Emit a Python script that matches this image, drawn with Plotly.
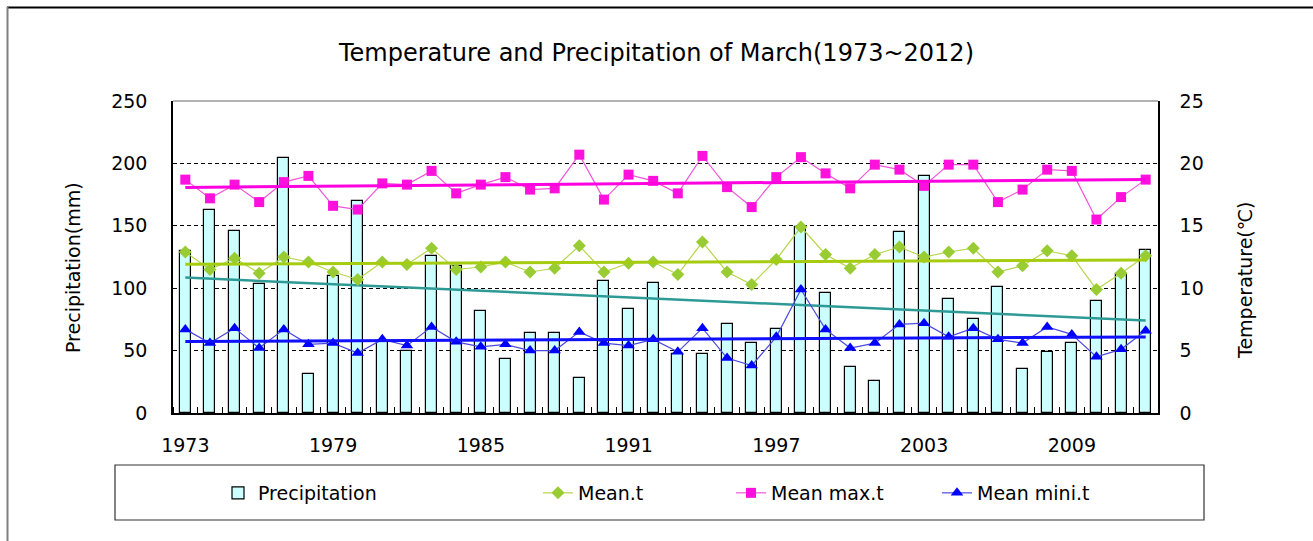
import numpy as np
import plotly.graph_objects as go

years = list(range(1973, 2013))
precipitation = [130, 163, 146, 103, 204, 31, 110, 170, 58, 50,
                 126, 118, 82, 43, 64, 64, 28, 106, 83, 104,
                 47, 47, 71, 56, 67, 149, 96, 37, 26, 145,
                 190, 91, 75, 101, 35, 49, 56, 90, 111, 131]
mean_t = [12.9, 11.5, 12.4, 11.2, 12.5, 12.1, 11.3, 10.7, 12.1, 11.9,
          13.2, 11.5, 11.7, 12.1, 11.3, 11.6, 13.4, 11.3, 12.0, 12.1,
          11.1, 13.7, 11.3, 10.3, 12.3, 14.9, 12.7, 11.6, 12.7, 13.3,
          12.5, 12.9, 13.2, 11.3, 11.8, 13.0, 12.6, 9.9, 11.2, 12.6]
mean_max_t = [18.7, 17.2, 18.3, 16.9, 18.5, 19.0, 16.6, 16.3, 18.4, 18.3,
              19.4, 17.6, 18.3, 18.9, 17.9, 18.0, 20.7, 17.1, 19.1, 18.6,
              17.6, 20.6, 18.1, 16.5, 18.9, 20.5, 19.2, 18.0, 19.9, 19.5,
              18.2, 19.9, 19.9, 16.9, 17.9, 19.5, 19.4, 15.5, 17.3, 18.7]
mean_min_t = [6.7, 5.6, 6.8, 5.2, 6.7, 5.5, 5.6, 4.8, 5.9, 5.4,
              6.9, 5.7, 5.3, 5.5, 5.0, 5.0, 6.5, 5.6, 5.4, 5.9,
              4.9, 6.8, 4.4, 3.8, 6.1, 9.9, 6.7, 5.2, 5.6, 7.1,
              7.2, 6.1, 6.8, 5.9, 5.6, 6.9, 6.3, 4.5, 5.1, 6.6]
year_ticks = [1973, 1979, 1985, 1991, 1997, 2003, 2009]
precip_ticks = [0, 50, 100, 150, 200, 250]
temp_ticks = [0, 5, 10, 15, 20, 25]

FONT = "DejaVu Sans"
PL, PR, PT, PB = 173, 1158, 101, 413


def px(x):
    return (x - PL) / (PR - PL)


def py(y):
    return (PB - y) / (PB - PT)


def trend(vals):
    x = np.array(years, dtype=float)
    k, b = np.polyfit(x, np.array(vals, dtype=float), 1)
    return k * x + b


fig = go.Figure()

fig.add_trace(go.Bar(x=years, y=precipitation, name="Precipitation", width=0.45,
                     marker=dict(color="#CCFFFF", line=dict(color="#000000", width=1.2)),
                     yaxis="y", legend="legend"))

fig.add_trace(go.Scatter(x=years, y=trend(precipitation), mode="lines", showlegend=False,
                         line=dict(color="#2E9A96", width=2.5), yaxis="y", hoverinfo="skip"))

fig.add_trace(go.Scatter(x=years, y=mean_t, name="Mean.t", mode="lines+markers",
                         line=dict(color="#B5D64A", width=1.2),
                         marker=dict(symbol="diamond", size=10, color="#99CC33"),
                         yaxis="y2", legend="legend2"))
fig.add_trace(go.Scatter(x=years, y=mean_max_t, name="Mean max.t", mode="lines+markers",
                         line=dict(color="#F055D8", width=1.2),
                         marker=dict(symbol="square", size=10, color="#FF11DD"),
                         yaxis="y2", legend="legend3"))
fig.add_trace(go.Scatter(x=years, y=mean_min_t, name="Mean mini.t", mode="lines+markers",
                         line=dict(color="#4A4AE0", width=1.2),
                         marker=dict(symbol="triangle-up", size=11, color="#0000FF"),
                         yaxis="y2", legend="legend4"))

fig.add_trace(go.Scatter(x=years, y=trend(mean_t), mode="lines", showlegend=False,
                         line=dict(color="#A5CC10", width=3), yaxis="y2", hoverinfo="skip"))
fig.add_trace(go.Scatter(x=years, y=trend(mean_max_t), mode="lines", showlegend=False,
                         line=dict(color="#FF00E0", width=3), yaxis="y2", hoverinfo="skip"))
fig.add_trace(go.Scatter(x=years, y=trend(mean_min_t), mode="lines", showlegend=False,
                         line=dict(color="#1010FF", width=3), yaxis="y2", hoverinfo="skip"))

legend_common = dict(yref="paper", xref="paper", yanchor="middle", xanchor="left",
                     bgcolor="rgba(0,0,0,0)", borderwidth=0,
                     font=dict(family=FONT, size=19, color="#000000"),
                     itemwidth=30)
y_leg = py(493)

fig.update_layout(
    width=1313, height=541,
    margin=dict(l=PL, r=1313 - PR, t=PT, b=541 - PB, pad=0),
    paper_bgcolor="#FFFFFF", plot_bgcolor="#FFFFFF",
    font=dict(family=FONT, size=19, color="#000000"),
    title=dict(text="Temperature and Precipitation of March(1973~2012)",
               x=0.5, xref="container", xanchor="center",
               y=1 - 53 / 541, yref="container", yanchor="middle",
               font=dict(family=FONT, size=24, color="#000000")),
    bargap=0,
    xaxis=dict(range=[1972.5, 2012.5], tickvals=year_ticks, ticks="",
               showline=True, linecolor="#000000", linewidth=1.5,
               showgrid=False, zeroline=False, ticklabelstandoff=14,
               tickfont=dict(family=FONT, size=19),
               minor=dict(tick0=1972.5, dtick=1, ticks="inside", ticklen=6,
                          tickcolor="#000000", tickwidth=1, showgrid=False)),
    yaxis=dict(range=[0, 250], tickvals=precip_ticks, ticks="",
               showline=True, linecolor="#000000", linewidth=1.5,
               showgrid=True, gridcolor="#000000", gridwidth=1, griddash="4px,3px",
               zeroline=False, ticklabelstandoff=20,
               tickfont=dict(family=FONT, size=19)),
    yaxis2=dict(range=[0, 25], tickvals=temp_ticks, ticks="", overlaying="y", side="right",
                showline=True, linecolor="#000000", linewidth=1.5,
                showgrid=False, zeroline=False, ticklabelstandoff=16,
                tickfont=dict(family=FONT, size=19)),
    legend=dict(x=px(218), y=y_leg, **legend_common),
    legend2=dict(x=px(538), y=y_leg, **legend_common),
    legend3=dict(x=px(731), y=y_leg, **legend_common),
    legend4=dict(x=px(937), y=y_leg, **legend_common),
    shapes=[
        dict(type="line", xref="paper", yref="paper", x0=0, x1=1, y0=1, y1=1,
             line=dict(color="#9A9A9A", width=1.5), layer="above"),
        dict(type="rect", xref="paper", yref="paper", x0=px(115), x1=px(1204),
             y0=py(465), y1=py(520), line=dict(color="#333333", width=1.2)),
        dict(type="line", xref="paper", yref="paper", x0=px(7), x1=px(1313),
             y0=py(7.5), y1=py(7.5), line=dict(color="#000000", width=2)),
        dict(type="line", xref="paper", yref="paper", x0=px(7.5), x1=px(7.5),
             y0=py(7), y1=py(541), line=dict(color="#808080", width=2)),
    ],
    annotations=[
        dict(text="Precipitation(mm)", xref="paper", yref="paper", x=px(73), y=py(268),
             textangle=-90, showarrow=False, xanchor="center", yanchor="middle",
             font=dict(family=FONT, size=19)),
        dict(text="Temperature(℃)", xref="paper", yref="paper", x=px(1245), y=py(280),
             textangle=-90, showarrow=False, xanchor="center", yanchor="middle",
             font=dict(family=FONT, size=19)),
    ],
)

fig.write_html("out.html", config={"displayModeBar": False},
               post_script="document.body.style.margin='0px';document.body.style.overflow='hidden';")
